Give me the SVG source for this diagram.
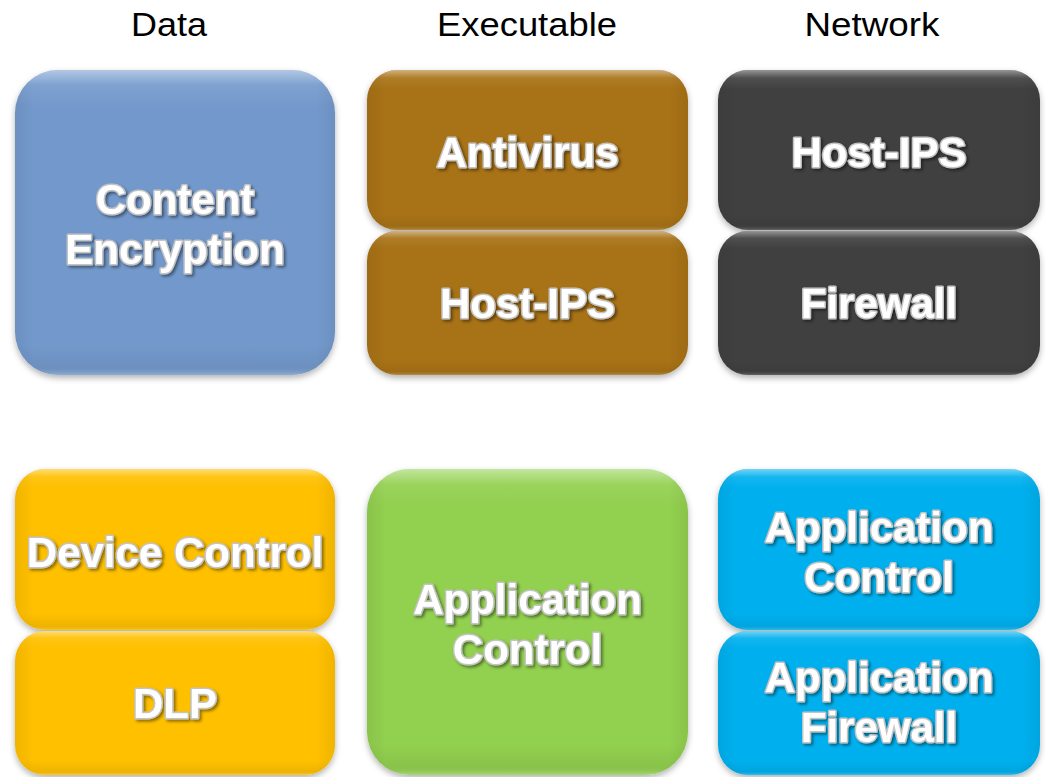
<svg xmlns="http://www.w3.org/2000/svg" width="1046" height="777" viewBox="0 0 1046 777">
  <defs>
    <filter id="boxShadow" x="-10%" y="-10%" width="120%" height="125%">
      <feDropShadow dx="0" dy="3" stdDeviation="3" flood-color="#000" flood-opacity="0.3"/>
    </filter>
    <filter id="textShadow" x="-10%" y="-30%" width="120%" height="160%">
      <feDropShadow dx="2" dy="2" stdDeviation="1.4" flood-color="#000" flood-opacity="0.45"/>
    </filter>
    <linearGradient id="bevelV" x1="0" y1="0" x2="0" y2="1">
      <stop offset="0" stop-color="#fff" stop-opacity="0.45"/>
      <stop offset="0.05" stop-color="#fff" stop-opacity="0.08"/>
      <stop offset="0.12" stop-color="#fff" stop-opacity="0"/>
      <stop offset="0.9" stop-color="#000" stop-opacity="0"/>
      <stop offset="0.97" stop-color="#000" stop-opacity="0.06"/>
      <stop offset="1" stop-color="#fff" stop-opacity="0.2"/>
    </linearGradient>
    <linearGradient id="bevelH" x1="0" y1="0" x2="1" y2="0">
      <stop offset="0" stop-color="#000" stop-opacity="0.06"/>
      <stop offset="0.06" stop-color="#000" stop-opacity="0"/>
      <stop offset="0.94" stop-color="#000" stop-opacity="0"/>
      <stop offset="1" stop-color="#000" stop-opacity="0.06"/>
    </linearGradient>
  </defs>
  <style>
    .hdr { font-family: "Liberation Sans", Arial, sans-serif; font-size: 33px; fill: #000; text-anchor: middle; }
    .lbl { font-family: "Liberation Sans", Arial, sans-serif; font-size: 42px; font-weight: bold; fill: #fff; text-anchor: middle; stroke: #c4c4c4; stroke-width: 3px; paint-order: stroke; stroke-linejoin: round; filter: url(#textShadow); }
    .shape { filter: url(#boxShadow); }
    .blue { fill: #7399cc; }
    .brown { fill: #a87217; }
    .dark { fill: #404040; }
    .yellow { fill: #ffc000; }
    .green { fill: #92d050; }
    .cyan { fill: #00b0ee; }
    .bv { fill: url(#bevelV); }
    .bh { fill: url(#bevelH); }
  </style>

  <rect width="1046" height="777" fill="#fff"/>

  <g id="headers">
    <text class="hdr" x="169" y="36" textLength="76" lengthAdjust="spacingAndGlyphs">Data</text>
    <text class="hdr" x="527" y="36" textLength="180" lengthAdjust="spacingAndGlyphs">Executable</text>
    <text class="hdr" x="872" y="36" textLength="135" lengthAdjust="spacingAndGlyphs">Network</text>
  </g>

  <g id="connectors"></g>

  <g id="node-content-encryption">
    <rect class="shape blue" x="15" y="70" width="320" height="305" rx="43"/>
    <rect class="bv" x="15" y="70" width="320" height="305" rx="43"/>
    <rect class="bh" x="15" y="70" width="320" height="305" rx="43"/>
    <text class="lbl" x="175" y="214">Content</text>
    <text class="lbl" x="175" y="264">Encryption</text>
  </g>

  <g id="node-antivirus">
    <rect class="shape brown" x="367" y="70" width="321" height="160" rx="30"/>
    <rect class="bv" x="367" y="70" width="321" height="160" rx="30"/>
    <rect class="bh" x="367" y="70" width="321" height="160" rx="30"/>
    <text class="lbl" x="527.5" y="167">Antivirus</text>
  </g>
  <g id="node-host-ips-exec">
    <rect class="shape brown" x="367" y="231" width="321" height="144" rx="30"/>
    <rect class="bv" x="367" y="231" width="321" height="144" rx="30"/>
    <rect class="bh" x="367" y="231" width="321" height="144" rx="30"/>
    <text class="lbl" x="527.5" y="318">Host-IPS</text>
  </g>

  <g id="node-host-ips-net">
    <rect class="shape dark" x="718" y="70" width="322" height="160" rx="30"/>
    <rect class="bv" x="718" y="70" width="322" height="160" rx="30"/>
    <rect class="bh" x="718" y="70" width="322" height="160" rx="30"/>
    <text class="lbl" x="879" y="167">Host-IPS</text>
  </g>
  <g id="node-firewall">
    <rect class="shape dark" x="718" y="231" width="322" height="144" rx="30"/>
    <rect class="bv" x="718" y="231" width="322" height="144" rx="30"/>
    <rect class="bh" x="718" y="231" width="322" height="144" rx="30"/>
    <text class="lbl" x="879" y="318">Firewall</text>
  </g>

  <g id="node-device-control">
    <rect class="shape yellow" x="15" y="469" width="320" height="161" rx="30"/>
    <rect class="bv" x="15" y="469" width="320" height="161" rx="30"/>
    <rect class="bh" x="15" y="469" width="320" height="161" rx="30"/>
    <text class="lbl" x="175" y="567">Device Control</text>
  </g>
  <g id="node-dlp">
    <rect class="shape yellow" x="15" y="631" width="320" height="144" rx="30"/>
    <rect class="bv" x="15" y="631" width="320" height="144" rx="30"/>
    <rect class="bh" x="15" y="631" width="320" height="144" rx="30"/>
    <text class="lbl" x="175" y="718">DLP</text>
  </g>

  <g id="node-application-control-exec">
    <rect class="shape green" x="367" y="469" width="321" height="306" rx="43"/>
    <rect class="bv" x="367" y="469" width="321" height="306" rx="43"/>
    <rect class="bh" x="367" y="469" width="321" height="306" rx="43"/>
    <text class="lbl" x="527.5" y="614">Application</text>
    <text class="lbl" x="527.5" y="664">Control</text>
  </g>

  <g id="node-application-control-net">
    <rect class="shape cyan" x="718" y="469" width="322" height="161" rx="30"/>
    <rect class="bv" x="718" y="469" width="322" height="161" rx="30"/>
    <rect class="bh" x="718" y="469" width="322" height="161" rx="30"/>
    <text class="lbl" x="879" y="542">Application</text>
    <text class="lbl" x="879" y="592">Control</text>
  </g>
  <g id="node-application-firewall">
    <rect class="shape cyan" x="718" y="631" width="322" height="144" rx="30"/>
    <rect class="bv" x="718" y="631" width="322" height="144" rx="30"/>
    <rect class="bh" x="718" y="631" width="322" height="144" rx="30"/>
    <text class="lbl" x="879" y="692">Application</text>
    <text class="lbl" x="879" y="742">Firewall</text>
  </g>
</svg>
